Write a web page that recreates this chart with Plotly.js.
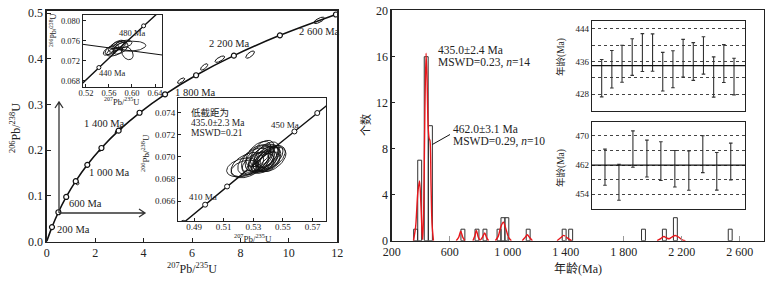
<!DOCTYPE html>
<html><head><meta charset="utf-8">
<script src="https://cdn.plot.ly/plotly-3.0.1.min.js"></script>
<style>body{margin:0;background:#fff}#c{width:774px;height:281px}</style>
</head><body><div id="c"></div>
<script>
// ================= DATA =================
// Main concordia: age markers (Ma) and ratios
const concAges = [0,200,400,600,800,1000,1200,1400,1600,1800,2000,2200,2400,2600];
const concX = [0,0.2177,0.4828,0.8057,1.1987,1.6774,2.2603,2.9702,3.8345,4.8871,6.1687,7.7295,9.6300,11.9444];
const concY = [0,0.0315,0.0640,0.0975,0.1321,0.1678,0.2046,0.2426,0.2817,0.3221,0.3638,0.4067,0.4511,0.4968];
// Main-plot error ellipses (centre, sigma-x, sigma-y, rho)
const mainEllX   = [0.50,1.20,1.25,2.26,2.92,3.00,5.55,6.50,7.15,8.40,11.25];
const mainEllY   = [0.065,0.131,0.129,0.203,0.243,0.245,0.352,0.382,0.399,0.409,0.484];
const mainEllSX  = [0.07,0.09,0.08,0.10,0.10,0.12,0.15,0.15,0.20,0.18,0.22];
const mainEllSY  = [0.004,0.005,0.005,0.006,0.005,0.005,0.006,0.007,0.007,0.008,0.007];
const mainEllRho = [0.8,0.8,-0.3,0.8,0.8,0.8,0.7,0.7,0.7,0.7,0.7];

// Inset 1 (upper-left)
const in1ConcX = [0.4975,0.5731,0.6525];
const in1ConcY = [0.06567,0.07396,0.08233];
const in1MarkX = [0.5424,0.6202];
const in1MarkY = [0.07064,0.07897];
const in1DiscX = [0.5143,0.6527];
const in1DiscY = [0.07528,0.07314];
const in1EllX   = [0.565,0.572,0.578,0.570,0.580,0.575,0.598,0.592,0.585,0.560];
const in1EllY   = [0.0742,0.0748,0.0750,0.0738,0.0745,0.0752,0.0749,0.0735,0.0753,0.0740];
const in1EllSX  = [0.012,0.013,0.012,0.014,0.013,0.012,0.026,0.010,0.015,0.010];
const in1EllSY  = [0.0010,0.0011,0.0010,0.0009,0.0012,0.0009,0.0010,0.0013,0.0008,0.0009];
const in1EllRho = [0.6,0.6,0.6,0.5,0.5,0.6,0.15,-0.3,0.4,0.6];

// Inset 2 (lower-right of left panel)
const in2Ages  = [400,410,420,430,440,450,460,470];
const in2ConcX = [0.4828,0.4975,0.5123,0.5273,0.5424,0.5577,0.5731,0.5886];
const in2ConcY = [0.06402,0.06567,0.06732,0.06898,0.07064,0.07230,0.07397,0.07563];
const in2EllX   = [0.5225,0.5245,0.5260,0.5300,0.5320,0.5340,0.5355,0.5370,0.5385,0.5400,0.5410,0.5425,0.5350,0.5380,0.5395,0.5335,0.5430,0.5365,0.5405,0.5315,0.5360,0.5390];
const in2EllY   = [0.06905,0.06890,0.06930,0.06960,0.06985,0.06990,0.06980,0.06995,0.06985,0.06975,0.06990,0.06975,0.06955,0.06960,0.07000,0.07025,0.06995,0.06940,0.06955,0.06940,0.07030,0.07020];
const in2EllSX  = [0.0105,0.0095,0.0110,0.0105,0.0100,0.0095,0.0090,0.0095,0.0090,0.0085,0.0090,0.0095,0.0085,0.0080,0.0080,0.0085,0.0085,0.0075,0.0075,0.0090,0.0080,0.0085];
const in2EllSY  = [0.00085,0.00080,0.00110,0.00120,0.00125,0.00120,0.00115,0.00120,0.00110,0.00110,0.00115,0.00110,0.00100,0.00095,0.00100,0.00115,0.00105,0.00090,0.00090,0.00100,0.00120,0.00115];
const in2EllRho = [0.35,0.3,0.45,0.5,0.5,0.5,0.5,0.55,0.5,0.5,0.55,0.5,0.45,0.45,0.5,0.5,0.5,0.45,0.45,0.45,0.5,0.5];

// Histogram of ages
const histAge   = [365,393,438,467,691,788,843,940,967,994,1141,1389,1434,1936,2080,2156,2534];
const histCount = [1,7,16,10,1,1,1,1,2,2,1,1,1,1,1,2,1];
// Probability-density curve (red), segments separated by null
const pdfAge = [350,365,380,392,402,410,414,421,429,437,444,451,458,464,471,478,488, null,
  645,662,676,690,705, null,
  760,773,784,796,810,826,841,855,868, null,
  915,935,952,970,988,1005,1025, null,
  1100,1118,1135,1152,1170, null,
  1340,1365,1386,1410,1440, null,
  2030,2055,2076,2098,2113,2130,2155,2180,2203,2225];
const pdfVal = [0,1.2,4.2,5.2,3.0,0.6,0.1,3.0,11.5,16.3,14.0,10.0,8.9,8.7,5.0,1.5,0, null,
  0,0.3,0.82,0.3,0, null,
  0,0.4,0.9,0.35,0.05,0.3,0.67,0.25,0, null,
  0,0.4,1.2,1.6,1.0,0.3,0, null,
  0,0.25,0.52,0.25,0, null,
  0,0.25,0.46,0.25,0, null,
  0,0.18,0.36,0.22,0.17,0.3,0.45,0.3,0.08,0];

// Weighted-mean insets
const meanA = 435.0;
const ageA  = [431.9,434.1,435.45,437.1,438.2,438.2,433.5,434.1,436.8,436.0,437.5,432.2,435.5,432.3];
const errA  = [4.6,4.6,4.55,4.5,4.65,4.6,4.75,4.55,4.65,4.65,4.6,4.95,4.65,4.5];
const meanB = 462.0;
const ageB  = [461.45,457.3,466.4,463.8,463.1,461.0,460.5,465.0,460.3,463.0];
const errB  = [4.95,4.95,5.0,5.05,5.3,5.0,5.4,5.05,5.15,5.05];

// ================= HELPERS =================
const W=774,H=281;
const PX=x=>x/W, PY=y=>1-y/H;
const FONT='"Liberation Serif","Noto Sans CJK SC",serif';
function ellipses(cx,cy,sx,sy,rho){
  const xs=[],ys=[];
  for(let k=0;k<cx.length;k++){
    const r2=Math.sqrt(1-rho[k]*rho[k]);
    for(let i=0;i<=72;i++){const t=2*Math.PI*i/72;
      xs.push(cx[k]+sx[k]*Math.cos(t));
      ys.push(cy[k]+sy[k]*(rho[k]*Math.cos(t)+r2*Math.sin(t)));}
    xs.push(null);ys.push(null);
  }
  return {x:xs,y:ys};
}
const idx=(n)=>Array.from({length:n},(_,i)=>i+1);

const mE=ellipses(mainEllX,mainEllY,mainEllSX,mainEllSY,mainEllRho);
const e1=ellipses(in1EllX,in1EllY,in1EllSX,in1EllSY,in1EllRho);
const e2=ellipses(in2EllX,in2EllY,in2EllSX,in2EllSY,in2EllRho);
const mk={symbol:'circle',size:5,color:'white',line:{color:'#111',width:1.2}};

const traces=[
  {x:concX,y:concY,xaxis:'x',yaxis:'y',mode:'lines',line:{color:'#111',width:1.6,shape:'spline'}},
  {x:mE.x,y:mE.y,xaxis:'x',yaxis:'y',mode:'lines',line:{color:'#111',width:1}},
  {x:concX.slice(1),y:concY.slice(1),xaxis:'x',yaxis:'y',mode:'markers',marker:mk},
  // inset 1
  {x:in1ConcX,y:in1ConcY,xaxis:'x2',yaxis:'y2',mode:'lines',line:{color:'#111',width:1.4}},
  {x:in1DiscX,y:in1DiscY,xaxis:'x2',yaxis:'y2',mode:'lines',line:{color:'#111',width:1}},
  {x:in1MarkX,y:in1MarkY,xaxis:'x2',yaxis:'y2',mode:'markers',marker:{symbol:'circle',size:4,color:'white',line:{color:'#111',width:1}}},
  {x:e1.x,y:e1.y,xaxis:'x2',yaxis:'y2',mode:'lines',line:{color:'#111',width:0.9}},
  // inset 2
  {x:in2ConcX,y:in2ConcY,xaxis:'x3',yaxis:'y3',mode:'lines',line:{color:'#111',width:1.4}},
  {x:in2ConcX,y:in2ConcY,xaxis:'x3',yaxis:'y3',mode:'markers',marker:{symbol:'circle',size:5,color:'white',line:{color:'#111',width:1}}},
  {x:e2.x,y:e2.y,xaxis:'x3',yaxis:'y3',mode:'lines',line:{color:'#111',width:0.9}},
  // histogram
  {type:'bar',x:histAge,y:histCount,width:27,xaxis:'x4',yaxis:'y4',marker:{color:'rgba(255,255,255,0)',line:{color:'#333',width:1}}},
  {x:pdfAge,y:pdfVal,xaxis:'x4',yaxis:'y4',mode:'lines',connectgaps:false,line:{color:'#e8161b',width:1.4,shape:'spline',smoothing:0.8}},
  // weighted-mean insets
  {x:idx(ageA.length),y:ageA,xaxis:'x5',yaxis:'y5',mode:'markers',marker:{size:2,color:'rgba(0,0,0,0)'},
   error_y:{type:'data',array:errA,visible:true,color:'#333',thickness:1.1,width:1.8}},
  {x:idx(ageB.length),y:ageB,xaxis:'x6',yaxis:'y6',mode:'markers',marker:{size:2,color:'rgba(0,0,0,0)'},
   error_y:{type:'data',array:errB,visible:true,color:'#333',thickness:1.1,width:1.8}}
];

function ax(o){return Object.assign({showline:true,mirror:true,linecolor:'#222',linewidth:1,ticks:'inside',ticklen:3,tickcolor:'#222',
  showgrid:false,zeroline:false,tickfont:{family:FONT,size:12,color:'#222'},fixedrange:true},o);}
const dotGrid={dtick:4,showgrid:true,griddash:'dot',gridcolor:'#444',gridwidth:1,ticks:''};

const layout={
  width:W,height:H,margin:{l:0,r:0,t:0,b:0},paper_bgcolor:'white',plot_bgcolor:'white',showlegend:false,
  font:{family:FONT,color:'#222'},
  xaxis:ax({domain:[PX(46.7),PX(337.3)],range:[0,12],tickvals:[0,2,4,6,8,10,12],anchor:'y',linewidth:1.3,ticklen:4}),
  yaxis:ax({domain:[PY(241.5),PY(10.5)],range:[0,0.5055],tickvals:[0,0.1,0.2,0.3,0.4,0.5],tickformat:'.1f',anchor:'x',linewidth:1.3,ticklen:4}),
  xaxis2:ax({domain:[PX(82.7),PX(162.3)],range:[0.5143,0.6527],tickvals:[0.52,0.56,0.60,0.64],tickformat:'.2f',anchor:'y2',
    ticklabelstandoff:-3,tickfont:{family:FONT,size:8.5}}),
  yaxis2:ax({domain:[PY(87.3),PY(15)],range:[0.06668,0.08114],tickvals:[0.068,0.072,0.076,0.080],tickformat:'.3f',anchor:'x2',tickfont:{family:FONT,size:8.5}}),
  xaxis3:ax({domain:[PX(178),PX(326)],range:[0.4792,0.579],tickvals:[0.49,0.51,0.53,0.55,0.57],tickformat:'.2f',anchor:'y3',
    ticklabelstandoff:-3,tickfont:{family:FONT,size:9}}),
  yaxis3:ax({domain:[PY(221),PY(98)],range:[0.06419,0.07533],tickvals:[0.066,0.068,0.070,0.072,0.074],tickformat:'.3f',anchor:'x3',tickfont:{family:FONT,size:9}}),
  xaxis4:ax({domain:[PX(391.7),PX(764)],range:[200,2767],tickvals:[200,600,1000,1400,1800,2200,2600],
    ticktext:['200','600','1 000','1 400','1 800','2 200','2 600'],anchor:'y4',ticklen:5,tickcolor:'#999',linewidth:1.3}),
  yaxis4:ax({domain:[PY(240.7),PY(10)],range:[0,20.06],tickvals:[0,4,8,12,16,20],anchor:'x4',linewidth:1.3}),
  xaxis5:ax({domain:[PX(591.7),PX(745)],range:[0.02,15.08],showticklabels:false,ticks:'',anchor:'y5'}),
  yaxis5:ax({domain:[PY(110.7),PY(20.7)],range:[423.9,446.04],tickvals:[428,436,444],ticks:'',
    showgrid:true,griddash:'dot',gridcolor:'#444',gridwidth:1,minor:Object.assign({tick0:428},dotGrid),anchor:'x5',tickfont:{family:FONT,size:9}}),
  xaxis6:ax({domain:[PX(591.7),PX(745)],range:[0.05,11.02],showticklabels:false,ticks:'',anchor:'y6'}),
  yaxis6:ax({domain:[PY(209.3),PY(121.7)],range:[449.88,473.92],tickvals:[454,462,470],ticks:'',
    showgrid:true,griddash:'dot',gridcolor:'#444',gridwidth:1,minor:Object.assign({tick0:454},dotGrid),anchor:'x6',tickfont:{family:FONT,size:9}}),
  bargap:0,barmode:'overlay',
  shapes:[
    {type:'line',xref:'x5 domain',yref:'y5',x0:0,x1:1,y0:meanA,y1:meanA,line:{color:'#111',width:1.3}},
    {type:'line',xref:'x6 domain',yref:'y6',x0:0,x1:1,y0:meanB,y1:meanB,line:{color:'#111',width:1.3}},
    {type:'line',xref:'paper',yref:'paper',x0:PX(450),y0:PY(134.5),x1:PX(432.3),y1:PY(144.5),line:{color:'#111',width:1}},
    // zoom arrows
    {type:'path',xref:'paper',yref:'paper',path:`M${PX(59)},${PY(213)} L${PX(59)},${PY(102)} M${PX(55)},${PY(108)} L${PX(59)},${PY(102)} L${PX(63)},${PY(108)}`,line:{color:'#333',width:1.3}},
    {type:'path',xref:'paper',yref:'paper',path:`M${PX(59)},${PY(213)} L${PX(145)},${PY(213)} M${PX(139)},${PY(209)} L${PX(145)},${PY(213)} L${PX(139)},${PY(217)}`,line:{color:'#333',width:1.3}}
  ],
  annotations:[]
};
const A=layout.annotations;
function T(text,x,y,size,o){A.push(Object.assign({text:text,xref:'paper',yref:'paper',x:PX(x),y:PY(y),showarrow:false,
  font:{family:FONT,size:size,color:'#222'},xanchor:'center',yanchor:'middle'},o||{}));}
const sup=(a,b)=>'<sup>'+a+'</sup>Pb/<sup>'+b+'</sup>U';
// axis titles
T(sup(207,235),191.7,268,12);
T(sup(206,238),15,128,12,{textangle:-90});
T(sup(206,238),53,31,8,{textangle:-90});
T(sup(207,235),121,101,8.5);
T(sup(206,238),145,153,9,{textangle:-90});
T(sup(207,235),253,238,9);
T('个数',366,125,11,{textangle:-90});
T('年龄(Ma)',578,269,12);
T('年龄(Ma)',561,57,9.5,{textangle:-90});
T('年龄(Ma)',561,168,9.5,{textangle:-90});
// concordia labels
const L={xanchor:'left'};
T('200 Ma',55,229,10.5,L); T('600 Ma',67,203,10.5,L); T('1 000 Ma',87,172,10.5,L);
T('1 400 Ma',82,123,10.5,L); T('1 800 Ma',173,92,10.5,L); T('2 200 Ma',207,44,10.5,L); T('2 600 Ma',297,32,10.5,L);
T('480 Ma',117,33,8.5,L); T('440 Ma',97,72.7,8.5,L);
T('410 Ma',187,196.7,9,L); T('450 Ma',269,125,9,L);
T('低截距为',189,113,9.5,L); T('435.0±2.3 Ma',189,123,9.5,L); T('MSWD=0.21',189,133,9.5,L);
// histogram labels
T('435.0±2.4 Ma',435.7,50,11.5,L); T('MSWD=0.23, <i>n</i>=14',435.7,62.7,11.5,L);
T('462.0±3.1 Ma',450.7,129,11.5,L); T('MSWD=0.29, <i>n</i>=10',450.7,141.7,11.5,L);

Plotly.newPlot('c',traces,layout,{staticPlot:true,displayModeBar:false});
</script></body></html>
